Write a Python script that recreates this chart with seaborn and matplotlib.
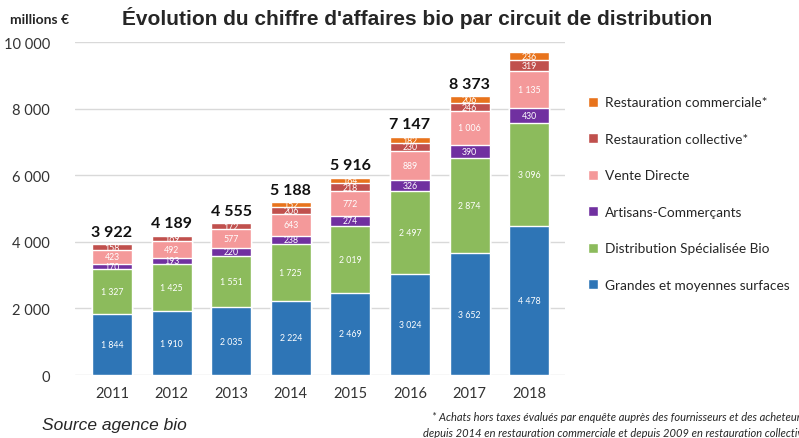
import numpy as np
import pandas as pd
import matplotlib.pyplot as plt
import seaborn as sns

# chiffre d'affaires bio (millions €) par circuit de distribution
years = ['2011', '2012', '2013', '2014', '2015', '2016', '2017', '2018']
gms = [1844, 1910, 2035, 2224, 2469, 3024, 3652, 4478]
dist_bio = [1327, 1425, 1551, 1725, 2019, 2497, 2874, 3096]
artisans = [170, 193, 220, 238, 274, 326, 390, 430]
vente_directe = [423, 492, 577, 643, 772, 889, 1006, 1135]
resto_collective = [158, 169, 172, 206, 218, 230, 246, 319]
resto_commerciale = [0, 0, 0, 152, 164, 182, 206, 236]
totals = ['3 922', '4 189', '4 555', '5 188', '5 916', '7 147', '8 373', '']

series_names = ['Grandes et moyennes surfaces', 'Distribution Spécialisée Bio',
                'Artisans-Commerçants', 'Vente Directe',
                'Restauration collective*', 'Restauration commerciale*']
series_values = [gms, dist_bio, artisans, vente_directe,
                 resto_collective, resto_commerciale]
colors = ['#2e75b6', '#8cbb5c', '#7030a0', '#f4999a', '#c0504d', '#e8731c']

sns.set_style('white')
plt.rcParams['font.family'] = ['Lato', 'DejaVu Sans']


def fmt(v):
    return f'{v:,}'.replace(',', ' ')


df = pd.DataFrame(dict(zip(series_names, series_values)), index=years)
cum = df.cumsum(axis=1)

fig = plt.figure(figsize=(7.99, 4.39), dpi=100)
ax = fig.add_axes([0.094, 0.1435, 0.613, 0.7585])

# draw from top layer down so each stacked segment shows
for name, col in reversed(list(zip(series_names, colors))):
    sns.barplot(x=years, y=cum[name].values, color=col, width=0.67,
                saturation=1, ax=ax, zorder=2, label=name)

for i, yr in enumerate(years):
    base = 0
    for name in series_names:
        v = df.loc[yr, name]
        if v > 0:
            ax.text(i, base + v / 2, fmt(v), ha='center', va='center',
                    color='white', fontsize=6.3, zorder=3)
        base += v
    if totals[i]:
        ax.text(i, base + 170, totals[i], ha='center', va='bottom',
                fontsize=11.5, fontweight='bold', color='#111111')

ax.set_ylim(0, 10000)
ax.set_xlim(-0.62, 7.6)
ax.set_yticks(np.arange(0, 10001, 2000))
ax.set_yticklabels([fmt(t) for t in range(0, 10001, 2000)])
ax.yaxis.grid(True, color='#d9d9d9', linewidth=1, zorder=0)
ax.set_axisbelow(True)
sns.despine(ax=ax, left=True, bottom=True)
ax.tick_params(axis='both', length=0, labelsize=10.5, colors='#333333')
ax.tick_params(axis='y', pad=18)
ax.tick_params(axis='x', pad=8)
ax.set_xlabel('')
ax.set_ylabel('')

handles, labels = ax.get_legend_handles_labels()
ax.legend(handles, labels, loc='center left', bbox_to_anchor=(1.022, 0.545),
          frameon=False, fontsize=9.8, labelspacing=1.8,
          handlelength=0.75, handleheight=0.75, handletextpad=0.5)

fig.text(0.153, 0.958, "Évolution du chiffre d'affaires bio par circuit de distribution",
         fontsize=15, fontweight='bold', family=['Liberation Sans'], va='center')
fig.text(0.012, 0.955, 'millions €', fontsize=10, fontweight='bold', va='center')
fig.text(0.052, 0.03, 'Source agence bio', fontsize=12.5, style='italic',
         family=['Liberation Sans'], va='center')
fig.text(0.541, 0.05, '* Achats hors taxes évalués par enquête auprès des fournisseurs et des acheteurs',
         fontsize=8, style='italic', va='center')
fig.text(0.529, 0.013, 'depuis 2014 en restauration commerciale et depuis 2009 en restauration collective',
         fontsize=8, style='italic', va='center')

fig.savefig('out.png', dpi=100)
